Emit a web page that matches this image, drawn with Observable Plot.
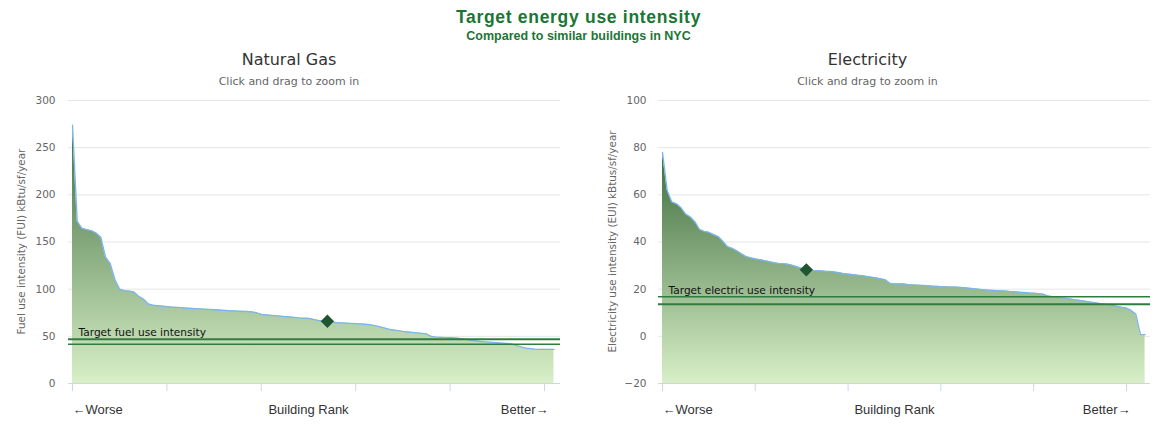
<!DOCTYPE html>
<html><head><meta charset="utf-8">
<script src="https://cdn.jsdelivr.net/npm/d3@7"></script>
<script src="https://cdn.jsdelivr.net/npm/@observablehq/plot@0.6"></script>
<style>
body{margin:0;background:#fff;}
#wrap{position:relative;width:1157px;height:428px;overflow:hidden;font-family:"DejaVu Sans",sans-serif;}
.hd{position:absolute;left:0;width:1157px;text-align:center;color:#1b7633;font-family:"Liberation Sans",Arial,sans-serif;font-weight:bold;}
#t1{top:7px;font-size:17.5px;line-height:20px;letter-spacing:0.7px;}
#t2{top:29px;font-size:12.5px;line-height:14px;}
.chart{position:absolute;top:0;height:428px;}
.ct{position:absolute;top:49px;left:0;right:0;text-align:center;font-size:16px;line-height:22px;color:#333;}
.cs{position:absolute;top:75px;left:0;right:0;text-align:center;font-size:11px;line-height:14px;color:#666;}
.plot{position:absolute;top:90px;left:0;}
</style></head>
<body>
<div id="wrap">
  <div class="hd" id="t1">Target energy use intensity</div>
  <div class="hd" id="t2">Compared to similar buildings in NYC</div>
  <div class="chart" id="c1" style="left:0;width:578px;">
    <div class="ct">Natural Gas</div>
    <div class="cs">Click and drag to zoom in</div>
    <div class="plot" id="p1"></div>
  </div>
  <div class="chart" id="c2" style="left:578px;width:579px;">
    <div class="ct">Electricity</div>
    <div class="cs">Click and drag to zoom in</div>
    <div class="plot" id="p2"></div>
  </div>
</div>
<script>
// ---- data ----
const gasValues = [274,172,164.5,163,162,159.5,155,134,127,110,
  100,98.5,98,97,92.5,89.5,84.5,83,82.5,82,
  81.5,81,80.7,80.4,80,79.7,79.4,79.1,78.8,78.5,
  78.2,77.9,77.6,77.3,77,76.8,76.5,76.3,76,75,
  73.3,72.8,72.3,71.9,71.4,71,70.5,70,69.5,69.3,
  69.1,68,66.8,66.1,65.6,65.1,64.6,64.3,64,63.7,
  63.4,63.1,62.8,62.4,61.4,60.2,59,57.6,56.7,56,
  55.2,54.6,54.1,53.6,53.2,52.5,50,49.1,48.9,48.7,
  48.5,48.3,47.8,47,46,45.4,44.8,44.3,43.9,43.5,
  43.2,42.8,42.5,42,40.3,38.8,37.6,37,36.4,36.2,
  36.2,36.2,36.2];
const elecValues = [78,62,57,56.2,54.5,51.8,50.6,48.5,45.3,44.5,
  44.1,43.1,42.3,40.3,38,37.3,36.3,35,33.8,33.3,
  32.8,32.5,32.1,31.7,31.2,30.9,30.8,30.6,30.1,29.5,
  28.8,28.3,28,27.9,27.8,27.6,27.5,27.3,27,26.6,
  26.4,26.2,25.9,25.7,25.4,25.1,24.8,24.4,24,22.5,
  22.2,22.2,22.2,21.9,21.8,21.7,21.6,21.5,21.3,21.2,
  21.1,21,20.9,20.9,20.8,20.6,20.4,20.2,20,19.8,
  19.6,19.5,19.4,19.3,19.2,19,18.9,18.7,18.6,18.4,
  18.3,18.1,17.9,17.2,16.8,16.5,16.3,16.1,15.8,15.5,
  15.2,14.9,14.6,14.3,14,13.7,13.4,13.1,12.7,12.3,
  12,11,9.5,0.8,0.7];
const gasTargets = [47, 41.5];
const elecTargets = [16.8, 13.6];
const gasYou = {rank: 54, value: 66};
const elecYou = {rank: 31, value: 28.2};
const gasYTicks = [0,50,100,150,200,250,300];
const elecYTicks = [-20,0,20,40,60,80,100];
const rankTicks = [0,20,40,60,80,100];
const rankLabels = [{rank:0, text:"←Worse"},{rank:50, text:"Building Rank"},{rank:100, text:"Better→"}];

function makeChart(o){
  const data = o.values.map((v,i)=>({rank:i, v}));
  const base = o.yDomain[0];
  const targets = o.targets.map((v,i)=>({v, w: o.targetWidths[i]}));
  const svg = Plot.plot({
    width:o.width, height:338, marginTop:10, marginBottom:45,
    marginLeft:o.marginLeft, marginRight:o.marginRight,
    x:{domain:o.xDomain}, y:{domain:o.yDomain},
    style:{fontFamily:"DejaVu Sans, sans-serif", fontSize:"10.5px", color:"#666", background:"transparent", overflow:"visible"},
    marks:[
      Plot.gridY({ticks:o.yTicks, stroke:"#e6e6e6", strokeOpacity:1}),
      Plot.axisY({ticks:o.yTicks, tickSize:0, tickPadding:o.tickPad, label:null, fill:"#666"}),
      Plot.axisX({ticks:rankTicks, tickSize:8, tickFormat:()=>"", stroke:"#ccd6eb", strokeOpacity:1, label:null}),
      Plot.areaY(data,{x:"rank", y1:base, y2:"v", fill:`url(#${o.gid})`}),
      Plot.lineY(data,{x:"rank", y:"v", stroke:"#7cb5ec", strokeWidth:1.3}),
      Plot.ruleY([base],{stroke:"#ccd6eb", strokeWidth:1}),
      Plot.ruleY(targets,{y:"v", stroke:"#2e7d3e", strokeWidth:"w"}),
      Plot.text([o.targetLabel],{frameAnchor:"left", y:o.targets[0], text:d=>d, textAnchor:"start", lineAnchor:"bottom", dx:10, dy:-3, fill:"#111", fontSize:10.6, fontFamily:"DejaVu Sans, sans-serif"}),
      Plot.dot([o.you],{x:"rank", y:"value", symbol:"diamond2", r:6, fill:"#1f5530", stroke:"none"}),
      Plot.text(rankLabels.slice(0,1),{x:"rank", text:"text", frameAnchor:"bottom", dy:30, textAnchor:"start", fill:"#333", fontSize:13, fontFamily:"Liberation Sans, Arial, sans-serif"}),
      Plot.text(rankLabels.slice(1,2),{x:"rank", text:"text", frameAnchor:"bottom", dy:30, textAnchor:"middle", fill:"#333", fontSize:13, fontFamily:"Liberation Sans, Arial, sans-serif"}),
      Plot.text(rankLabels.slice(2,3),{x:"rank", text:"text", frameAnchor:"bottom", dy:30, dx:4, textAnchor:"end", fill:"#333", fontSize:13, fontFamily:"Liberation Sans, Arial, sans-serif"})
    ]
  });
  const s = d3.select(svg);
  const g = s.append("defs").append("linearGradient").attr("id", o.gid)
    .attr("x1",0).attr("y1",0).attr("x2",0).attr("y2",1);
  g.append("stop").attr("offset",0).attr("stop-color","#3d6c3d");
  g.append("stop").attr("offset",1).attr("stop-color","#d8efc7");
  s.append("text")
    .attr("transform",`translate(${o.labelX},${(10+293)/2}) rotate(-90)`)
    .attr("text-anchor","middle").attr("dominant-baseline","middle")
    .attr("fill","#666").style("font-size","10.4px").style("font-family","DejaVu Sans, sans-serif")
    .text(o.yLabel);
  document.getElementById(o.target).appendChild(svg);
}

makeChart({target:"p1", values:gasValues, yDomain:[0,300], yTicks:gasYTicks, xDomain:[-0.85,103.39],
  width:578, marginLeft:68, marginRight:18, tickPad:13, targets:gasTargets, targetWidths:[2,1.5],
  targetLabel:"Target fuel use intensity", you:gasYou, gid:"g1", labelX:22,
  yLabel:"Fuel use intensity (FUI) kBtu/sf/year"});
makeChart({target:"p2", values:elecValues, yDomain:[-20,100], yTicks:elecYTicks, xDomain:[-0.86,105.17],
  width:579, marginLeft:80, marginRight:7, tickPad:12, targets:elecTargets, targetWidths:[1.5,2],
  targetLabel:"Target electric use intensity", you:elecYou, gid:"g2", labelX:35,
  yLabel:"Electricity use intensity (EUI) kBtus/sf/year"});
</script>
</body></html>
